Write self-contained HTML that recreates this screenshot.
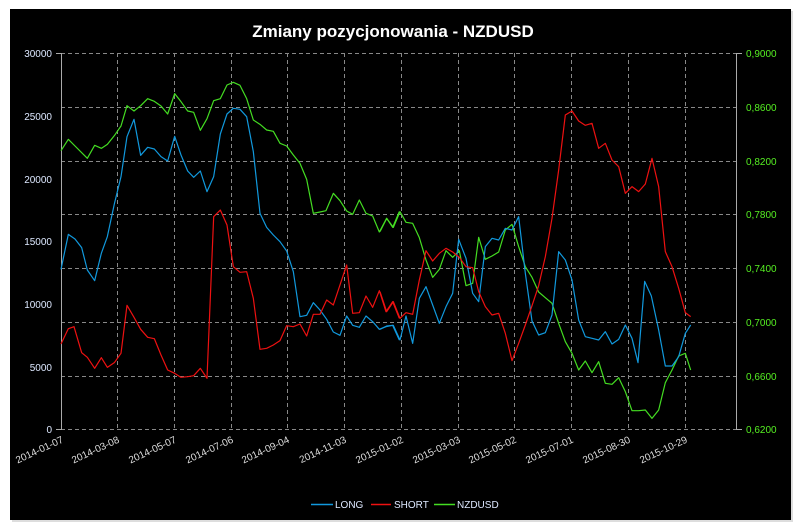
<!DOCTYPE html>
<html><head><meta charset="utf-8"><style>
body{margin:0;background:#fff;width:799px;height:528px;overflow:hidden}
svg{display:block;font-family:"Liberation Sans",sans-serif}
</style></head><body>
<svg width="799" height="528" viewBox="0 0 799 528">
<rect x="0" y="0" width="799" height="528" fill="#fff"/>
<rect x="12" y="11" width="781" height="511" fill="#ddd"/>
<rect x="10" y="9" width="781" height="511" fill="#000"/>
<text x="393" y="37" fill="#fff" font-size="17" font-weight="bold" text-anchor="middle">Zmiany pozycjonowania - NZDUSD</text>
<g stroke="#888" stroke-width="1" stroke-dasharray="4,3" fill="none">
<path d="M61 53.5H737M61 107.5H737M61 161.5H737M61 214.5H737M61 268.5H737M61 322.5H737M61 376.5H737M61 429.5H737"/>
<path d="M117.5 53V430M174.5 53V430M231.5 53V430M287.5 53V430M344.5 53V430M401.5 53V430M458.5 53V430M514.5 53V430M571.5 53V430M628.5 53V430M685.5 53V430"/>
</g>
<g stroke="#aaa" stroke-width="1"><path d="M61.5 53V430M736.5 53V430M56 53.5H61M56 429.5H61M737 53.5H742M737 429.5H742"/></g>
<g fill="#dde8ff" font-size="10" text-anchor="end">
<text x="52" y="57">30000</text><text x="52" y="120">25000</text><text x="52" y="183">20000</text><text x="52" y="245">15000</text><text x="52" y="308">10000</text><text x="52" y="371">5000</text><text x="52" y="433">0</text>
</g>
<g fill="#55ee22" font-size="10">
<text x="746" y="57">0,9000</text><text x="746" y="111">0,8600</text><text x="746" y="165">0,8200</text><text x="746" y="218">0,7800</text><text x="746" y="272">0,7400</text><text x="746" y="326">0,7000</text><text x="746" y="380">0,6600</text><text x="746" y="433">0,6200</text>
</g>
<g fill="#ddd" font-size="10" text-anchor="end">
<text transform="translate(64,442) rotate(-25)">2014-01-07</text>
<text transform="translate(120,442) rotate(-25)">2014-03-08</text>
<text transform="translate(177,442) rotate(-25)">2014-05-07</text>
<text transform="translate(234,442) rotate(-25)">2014-07-06</text>
<text transform="translate(290,442) rotate(-25)">2014-09-04</text>
<text transform="translate(347,442) rotate(-25)">2014-11-03</text>
<text transform="translate(404,442) rotate(-25)">2015-01-02</text>
<text transform="translate(461,442) rotate(-25)">2015-03-03</text>
<text transform="translate(517,442) rotate(-25)">2015-05-02</text>
<text transform="translate(574,442) rotate(-25)">2015-07-01</text>
<text transform="translate(631,442) rotate(-25)">2015-08-30</text>
<text transform="translate(688,442) rotate(-25)">2015-10-29</text>
</g>
<g fill="none" stroke-width="1.2" stroke-linejoin="round">
<g transform="translate(0,40) scale(0.33333)">
<polyline vector-effect="non-scaling-stroke" stroke="#44dd22" points="183,332 205,298 222,315 262,355 284,316 304,325 322,313 343,287 363,258 381,197 402,213 422,197 443,176 463,184 483,198 503,222 524,161 543,185 563,213 581,217 601,271 621,236 641,182 661,176 681,135 700,127 720,136 740,176 760,240 780,253 800,270 820,274 840,310 860,318 880,345 900,370 920,418 940,520 960,516 978,512 1000,460 1020,482 1040,513 1058,523 1078,480 1098,520 1118,528 1138,576 1160,535 1178,562 1198,515"/>
<polyline vector-effect="non-scaling-stroke" stroke="#1199dd" points="183,688 205,583 225,597 245,623 262,690 284,722 304,640 322,590 343,492 363,410 381,290 402,238 422,346 443,322 463,327 483,350 503,363 524,289 543,345 563,393 581,412 601,393 621,455 641,410 661,282 681,222 700,205 720,208 740,230 760,335 780,520 800,562 820,585 840,605 860,633 880,695 900,830 920,826 940,788 960,810 980,838 1000,876 1020,886 1040,828 1058,856 1078,862 1098,828 1118,845 1138,868 1158,860 1178,856 1198,900"/>
<polyline vector-effect="non-scaling-stroke" stroke="#ee1111" points="183,912 205,866 222,860 245,938 262,952 284,985 304,953 322,982 343,968 363,940 381,796 402,832 422,868 443,892 463,896 483,945 503,990 524,1000 543,1012 563,1010 581,1007 601,985 621,1015 641,530 661,510 681,555 700,680 720,697 740,695 760,775 780,928 800,925 820,915 840,902 860,857 880,860 900,852 920,888 940,823 960,823 980,780 1000,795 1020,735 1040,675 1058,820 1078,818 1098,768 1118,802 1138,752 1158,815 1178,785 1198,835"/>
</g>
<g transform="translate(380,40) scale(0.33333)">
<polyline vector-effect="non-scaling-stroke" stroke="#44dd22" points="0,575 20,535 40,562 60,515 78,547 98,550 118,593 138,660 158,712 178,688 198,632 218,652 238,632 258,737 278,730 296,592 316,658 336,648 356,636 376,570 396,553 416,620 436,680 456,712 476,756 496,773 516,790 536,850 556,905 576,940 596,990 616,963 636,998 656,965 676,1030 696,1033 716,1013 736,1055 756,1112 776,1112 796,1110 816,1135 836,1110 856,1028 876,990 896,948 916,940 932,990"/>
<polyline vector-effect="non-scaling-stroke" stroke="#1199dd" points="0,868 20,858 40,856 60,900 78,828 98,910 118,775 138,740 158,795 178,850 198,800 218,760 236,598 258,655 278,760 296,785 316,620 336,595 356,600 376,565 396,570 416,530 436,700 456,843 476,885 496,878 516,825 536,635 556,660 576,720 596,840 616,890 636,895 656,900 676,875 696,912 716,898 736,855 756,895 774,968 794,724 814,768 836,870 856,978 876,978 896,950 916,880 932,855"/>
<polyline vector-effect="non-scaling-stroke" stroke="#ee1111" points="0,755 20,815 40,785 60,835 78,818 98,823 118,720 138,632 158,663 178,640 198,625 218,636 238,652 258,680 278,683 296,755 316,800 336,825 356,820 376,880 396,962 416,910 436,855 456,797 476,737 496,650 516,535 536,390 556,225 576,213 596,243 616,256 636,250 656,325 676,310 696,360 716,380 736,460 756,440 776,455 796,432 816,355 836,440 856,635 876,680 896,745 916,818 932,830"/>
</g>
</g>
<g font-size="10" fill="#dde8ff">
<line x1="311" y1="504.5" x2="333" y2="504.5" stroke="#1199dd" stroke-width="1.5"/><text x="335" y="508">LONG</text>
<line x1="371" y1="504.5" x2="391" y2="504.5" stroke="#ee1111" stroke-width="1.5"/><text x="394" y="508">SHORT</text>
<line x1="434" y1="504.5" x2="455" y2="504.5" stroke="#44dd22" stroke-width="1.5"/><text x="457" y="508">NZDUSD</text>
</g>
</svg>
</body></html>
